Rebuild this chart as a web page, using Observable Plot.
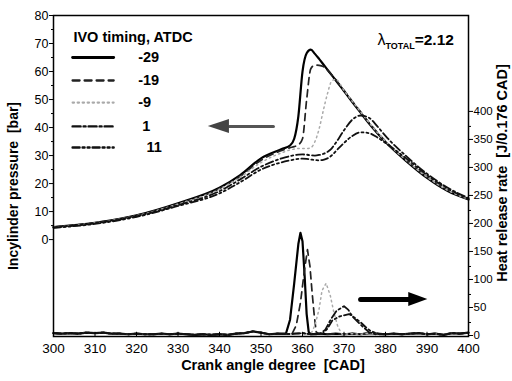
<!DOCTYPE html>
<html><head><meta charset="utf-8">
<script src="https://cdn.jsdelivr.net/npm/d3@7"></script>
<script src="https://cdn.jsdelivr.net/npm/@observablehq/plot@0.6"></script>
<style>body{margin:0;background:#fff;} #chart{width:512px;height:381px;}</style>
</head><body><div id="chart"></div>
<script>
// ---------- data ----------
const ivoTimings = ["-29", "-19", "-9", "1", "11"];
const crankGrid = [300,310,320,330,340,345,350,355,357,358,359,360,361,362,363,364,365,366,367,368,370,372,374,376,378,380,385,390,395,400];
const pressM29 = [4.5,6,8.7,13,18.5,23,29,32.3,33.6,36,44,60,66.5,67.8,66.3,64.5,62.6,60.7,58.8,56.9,53,49.1,45.3,41.5,38,34.8,28,22,17.3,14.3];
const pressM19 = [4.5,6,8.6,12.8,18.2,22.6,28.3,31.8,32.8,33.2,33.8,36,50,61,62.3,62.2,61.8,60.5,58.9,57.1,53.3,49.4,45.6,41.8,38.3,35.1,28.3,22.3,17.6,14.4];
const pressM9 = [4.4,5.9,8.5,12.7,18,22.3,27.5,31,32,32.3,32.5,32.5,32.5,32.8,35,39.5,46,52,56.5,57.2,53.3,49.4,45.6,41.8,38.3,35.1,28.3,22.3,17.6,14.4];
const press1 = [4.3,5.8,8.3,12.3,17.3,21.5,26,29,29.8,30.1,30.3,30.4,30.3,30.1,30,30.2,30.6,31.3,32.5,34.5,39,42.8,44.3,43.5,40.5,37,29.8,23.5,18.5,14.8];
const press11 = [4.2,5.6,8.1,12,16.5,20.5,25,27.6,28.3,28.6,28.8,28.9,28.8,28.6,28.4,28.3,28.5,29,30,31.5,34.5,37,38.3,38,36.5,34.5,29,23,18.2,14.6];

// heat release rate, J/0.176 CAD : burn peaks
const hrrXM29 = [356,357,358,359,359.5,360,360.5,361,361.5,362];
const hrrYM29 = [5,30,95,165,185,170,110,40,8,4];
const hrrXM19 = [357.5,358.5,359.5,360.5,361.2,361.8,362.3,362.8,363.3,364];
const hrrYM19 = [5,20,60,120,155,125,80,40,8,4];
const hrrXM9 = [362,363,364,364.7,365.7,366.7,367.5,368.5,369.5];
const hrrYM9 = [4,20,49,82,95,73,45,18,4];
const hrrX1 = [364,365.5,366.7,368.2,370,371,372.1,374.6,376,377.5];
const hrrY1 = [4,12,29,46,54,48,35,17,8,4];
const hrrX11 = [364.7,366,367.2,369,371.2,372.5,373.9,375.2,376.4,378.5];
const hrrY11 = [4,14,29,36,40,34,26,17,10,4];
// baseline level (motored part) of the heat release trace
const baseX = [300,302,304,306,308,310,312,314,316,318,320,322,324,326,328,330,332,334,336,338,340,342,344,346,348,350,352,354,356,358,360,362,364,366,368,370,372,374,376,378,380,382,384,386,388,390,392,394,396,398,400];
const baseY = [6,5,6,5,7,6,7,5,5,4,5,4,4,5,4,5,4,3,4,3,4,3,5,6,9,7,4,5,4,5,6,4,5,4,5,4,5,4,6,5,4,5,4,5,6,4,5,3,6,5,7];

const pressTicks = [0,10,20,30,40,50,60,70,80];
const pressMinor = [5,15,25,35,45,55,65,75];
const hrrTicks = [0,50,100,150,200,250,300,350,400];
const hrrMinor = [25,75,125,175,225,275,325,375];
const crankTicks = [300,310,320,330,340,350,360,370,380,390,400];

// ---------- build ----------
const pMin = -34.6, pMax = 80;
const hrrToP = v => pMin + v / 5;    // right axis: 50 units per 10 bar
const pToHrr = p => Math.round((p - pMin) * 5);
const FONT = "'Liberation Sans', Arial, sans-serif";

const pressSeries = [pressM29, pressM19, pressM9, press1, press11];
const hrrPeaks = [[hrrXM29,hrrYM29],[hrrXM19,hrrYM19],[hrrXM9,hrrYM9],[hrrX1,hrrY1],[hrrX11,hrrY11]];

const styles = [
  {stroke:"#000", strokeWidth:2.2, strokeDasharray:null},
  {stroke:"#222", strokeWidth:1.7, strokeDasharray:"7,5"},
  {stroke:"#aaa", strokeWidth:1.5, strokeDasharray:"1.5,3.5"},
  {stroke:"#111", strokeWidth:1.8, strokeDasharray:"8,3,2,3"},
  {stroke:"#111", strokeWidth:1.8, strokeDasharray:"7,3,2,3,2,3"}
];

const pressRows = pressSeries.map(arr => crankGrid.map((x, i) => ({x, p: arr[i]})));
const hrrRows = hrrPeaks.map(([px, py]) => {
  const lo = px[0], hi = px[px.length - 1];
  const rows = baseX.map((x, i) => ({x, h: baseY[i]})).filter(d => d.x < lo - 0.4 || d.x > hi + 0.4);
  px.forEach((x, i) => rows.push({x, h: py[i]}));
  return rows.sort((a, b) => a.x - b.x);
});

const marks = [];
// pressure curves
pressRows.forEach((rows, i) => marks.push(Plot.line(rows, {x:"x", y:"p", curve:"monotone-x", ...styles[i]})));
// heat release curves
hrrRows.forEach((rows, i) => marks.push(Plot.line(rows, {x:"x", y: d => hrrToP(d.h), curve:"linear", ...styles[i]})));

// legend (inside, upper left)
const legX1 = 304.6, legX2 = 314.5, legTextX = 320.4;
const legY = [65, 56.8, 48.9, 40.4, 32.9];
marks.push(Plot.text(["IVO timing, ATDC"], {x: 304.8, y: 72.2, text: d => d, textAnchor:"start", fontWeight:"bold", fontSize:14.5, fill:"#000"}));
ivoTimings.forEach((lab, i) => {
  marks.push(Plot.line([{x:legX1, y:legY[i]}, {x:legX2, y:legY[i]}], {x:"x", y:"y", ...styles[i], strokeWidth: styles[i].strokeWidth + 0.6}));
  marks.push(Plot.text([lab], {x: legTextX + (i === 3 ? 1 : i === 4 ? 2 : 0), y: legY[i], text: d => d, textAnchor:"start", fontWeight:"bold", fontSize:14.5, fill:"#000"}));
});

// arrows
const aL = {tip:337.3, base:342.4, tail:353.0, y:40.4};
marks.push(Plot.line([{x:aL.base, y:aL.y}, {x:aL.tail, y:aL.y}], {x:"x", y:"y", stroke:"#555", strokeWidth:3}));
marks.push(Plot.areaY([{x:aL.tip, a:aL.y, b:aL.y}, {x:aL.base, a:aL.y - 2.5, b:aL.y + 2.5}], {x:"x", y1:"a", y2:"b", fill:"#444"}));
const aR = {tail:374.0, base:385.6, tip:390.2, y:-21.4};
marks.push(Plot.line([{x:aR.tail, y:aR.y}, {x:aR.base, y:aR.y}], {x:"x", y:"y", stroke:"#000", strokeWidth:5}));
marks.push(Plot.areaY([{x:aR.base, a:aR.y - 2.5, b:aR.y + 2.5}, {x:aR.tip, a:aR.y, b:aR.y}], {x:"x", y1:"a", y2:"b", fill:"#000"}));

// axes
const blank = () => "";
marks.push(Plot.axisY(pressTicks, {anchor:"left", tickSize:4, tickPadding:1, fontSize:12.5, label:null}));
marks.push(Plot.axisY(pressMinor, {anchor:"left", tickSize:2, tickFormat:blank, label:null}));
marks.push(Plot.axisY(hrrTicks.map(hrrToP), {anchor:"right", tickSize:4, tickPadding:1, fontSize:11.5, dy:-1, tickFormat: pToHrr, label:null}));
marks.push(Plot.axisY(hrrMinor.map(hrrToP), {anchor:"right", tickSize:2, tickFormat:blank, label:null}));
marks.push(Plot.axisX(crankTicks, {anchor:"bottom", tickSize:0, tickPadding:7, fontSize:13.5, label:null}));
marks.push(Plot.ruleX(crankTicks, {x: d => d, y1: pMin, y2: pMin + 1.5, stroke:"#000", strokeWidth:1}));
marks.push(Plot.frame({stroke:"#000", strokeWidth:1.5}));

// axis titles
marks.push(Plot.text(["Incylinder pressure  [bar]"], {frameAnchor:"left", text:d=>d, rotate:-90, textAnchor:"middle", dx:-40, dy:10, fontWeight:"bold", fontSize:14, fill:"#000"}));
marks.push(Plot.text(["Heat release rate  [J/0.176 CAD]"], {frameAnchor:"right", text:d=>d, rotate:-90, textAnchor:"middle", dx:34, dy:-3, fontWeight:"bold", fontSize:14.5, fill:"#000"}));
marks.push(Plot.text(["Crank angle degree  [CAD]"], {frameAnchor:"bottom", text:d=>d, textAnchor:"middle", dx:12, dy:33, fontWeight:"bold", fontSize:14.5, fill:"#000"}));

const plot = Plot.plot({
  width: 512, height: 381,
  marginLeft: 53, marginRight: 44, marginTop: 15, marginBottom: 45,
  x: {domain: [300, 400]},
  y: {domain: [pMin, pMax]},
  style: {fontFamily: FONT, color: "#000", background: "#fff"},
  marks
});
document.getElementById("chart").appendChild(plot);

// lambda annotation with subscript
const sx = plot.scale("x"), sy = plot.scale("y");
const lam = d3.select(plot).append("text")
  .attr("x", sx.apply(378.2)).attr("y", sy.apply(69.3))
  .attr("text-anchor", "start")
  .attr("font-family", FONT).attr("fill", "#000");
lam.append("tspan").attr("font-size", 16).text("λ");
lam.append("tspan").attr("font-size", 9).attr("font-weight", "bold").attr("dy", 4).text("TOTAL");
lam.append("tspan").attr("font-size", 15.5).attr("font-weight", "bold").attr("dy", -4).text("=2.12");
</script>
</body></html>
